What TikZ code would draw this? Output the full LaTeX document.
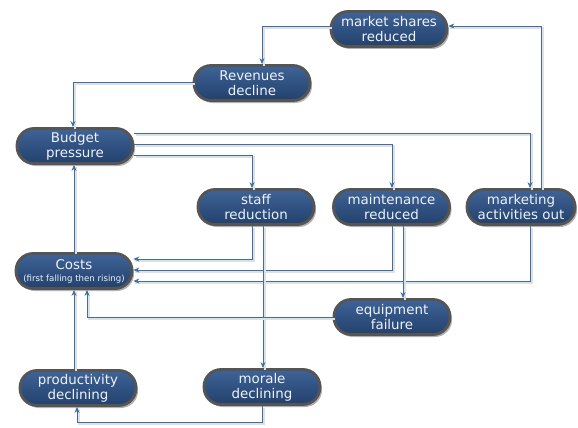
\documentclass[tikz,border=0pt]{standalone}
\usepackage{fontspec}
\setmainfont{DejaVu Sans}
\usetikzlibrary{arrows.meta,shadows,calc}
\definecolor{boxtop}{HTML}{3F6497}
\definecolor{boxbot}{HTML}{22406C}
\definecolor{boxedge}{HTML}{555555}
\definecolor{linecol}{HTML}{3E6DA8}
\definecolor{txtcol}{HTML}{EEF2F8}
\tikzset{
  box/.style={rectangle, rounded corners=17pt, minimum width=116pt, minimum height=35pt,
    inner sep=1pt, draw=boxedge, line width=2.8pt, top color=boxtop, bottom color=boxbot,
    text=txtcol, align=center, font=\fontsize{13.4}{15}\selectfont,
    drop shadow={shadow xshift=2pt, shadow yshift=-2.5pt, fill=black, opacity=0.3}},
  conn/.style={draw=linecol, line width=0.95pt, -{Stealth[length=6pt,width=5pt]},
    preaction={draw=black!12, line width=2.4pt, -, transform canvas={xshift=2pt,yshift=-2pt}}}
}
\begin{document}
\begin{tikzpicture}[x=1pt,y=-1pt]
\fill[white] (0,0) rectangle (578,428);
\useasboundingbox (0,0) rectangle (578,428);

\node[box] (ms) at (389,29) {market shares\\reduced};
\node[box] (rev) at (252,83) {Revenues\\decline};
\node[box] (bud) at (75,146) {Budget\\pressure};
\node[box] (stf) at (256,207) {staff\\reduction};
\node[box] (mnt) at (391.5,207) {maintenance\\reduced};
\node[box, minimum width=108pt] (mkt) at (521,207) {marketing\\activities out};
\node[box] (cost) at (74,271) {Costs\\[-3pt]{\fontsize{8.6}{10}\selectfont (first falling then rising)}};
\node[box] (eq) at (392,317) {equipment\\failure};
\node[box] (prod) at (78,388) {productivity\\declining};
\node[box] (mor) at (262,387) {morale\\declining};

\draw[conn] ([yshift=3pt]ms.west) -| ([xshift=10pt]rev.north);
\draw[conn] ([yshift=1pt]rev.west) -| ([xshift=-2pt]bud.north);
\draw[conn] ([yshift=13pt]bud.east) -| ([xshift=9pt]mkt.north);
\draw[conn] ([yshift=2pt]bud.east) -| ([xshift=0.5pt]mnt.north);
\draw[conn] ([yshift=-9pt]bud.east) -| ([xshift=-4pt]stf.north);
\draw[conn] ([xshift=20pt]mkt.north) |- ([yshift=3pt]ms.east);
\draw[conn] ([xshift=-4pt]stf.south) |- ([yshift=12pt]cost.east);
\draw[conn] ([xshift=0.5pt]mnt.south) |- ([yshift=1pt]cost.east);
\draw[conn] ([xshift=9pt]mkt.south) |- ([yshift=-10pt]cost.east);
\draw[conn] ([xshift=11.5pt]mnt.south) -- ([xshift=11.5pt]mnt.south |- eq.north);
\draw[conn] ([xshift=7pt]stf.south) -- ([xshift=7pt]stf.south |- mor.north);
\draw[conn] (eq.west) -| ([xshift=13pt]cost.south);
\draw[conn] ([xshift=-4pt]prod.north) -- ([xshift=-4pt]prod.north |- cost.south);
\draw[conn] (cost.north) -- (cost.north |- bud.south);
\coordinate (low) at (0,422);
\draw[conn] (mor.south) -- (mor.south |- low) -| ([xshift=-1pt]prod.south);
\end{tikzpicture}
\end{document}
